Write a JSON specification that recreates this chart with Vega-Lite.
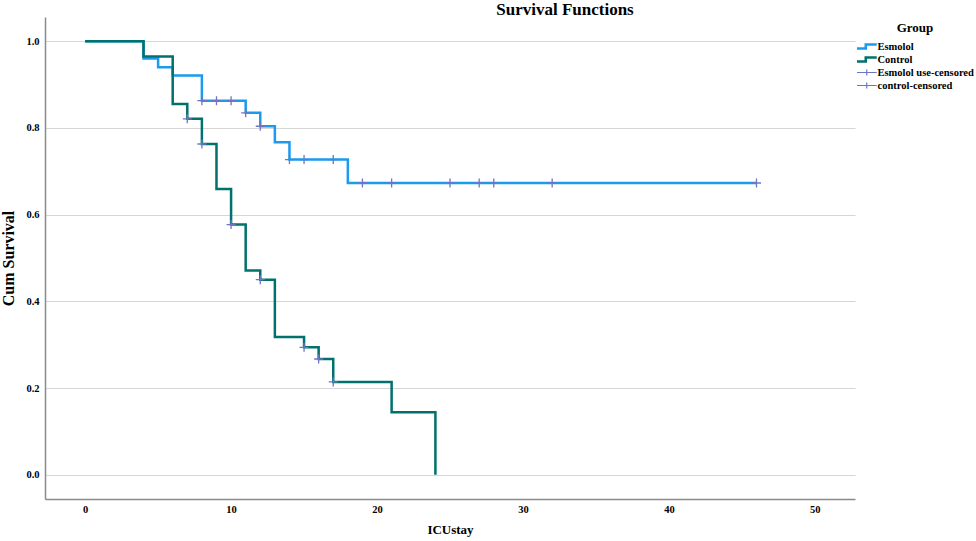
{
  "$schema": "https://vega.github.io/schema/vega-lite/v6.json",
  "width": 810,
  "height": 482,
  "autosize": {"type": "none"},
  "padding": {"left": 45, "top": 17, "right": 121, "bottom": 42},
  "background": "white",
  "title": {
    "text": "Survival Functions",
    "font": "Liberation Serif",
    "fontSize": 17,
    "fontWeight": "bold",
    "color": "#000000",
    "anchor": "middle",
    "dx": 115,
    "dy": 17,
    "offset": 2,
    "baseline": "alphabetic"
  },
  "datasets": {
    "curves": [
      {"ICUstay": 0, "survival": 1.0, "Group": "Esmolol"},
      {"ICUstay": 4, "survival": 0.960, "Group": "Esmolol"},
      {"ICUstay": 5, "survival": 0.940, "Group": "Esmolol"},
      {"ICUstay": 6, "survival": 0.921, "Group": "Esmolol"},
      {"ICUstay": 8, "survival": 0.863, "Group": "Esmolol"},
      {"ICUstay": 11, "survival": 0.835, "Group": "Esmolol"},
      {"ICUstay": 12, "survival": 0.804, "Group": "Esmolol"},
      {"ICUstay": 13, "survival": 0.767, "Group": "Esmolol"},
      {"ICUstay": 14, "survival": 0.727, "Group": "Esmolol"},
      {"ICUstay": 18, "survival": 0.673, "Group": "Esmolol"},
      {"ICUstay": 46, "survival": 0.673, "Group": "Esmolol"},
      {"ICUstay": 0, "survival": 1.0, "Group": "Control"},
      {"ICUstay": 4, "survival": 0.965, "Group": "Control"},
      {"ICUstay": 6, "survival": 0.855, "Group": "Control"},
      {"ICUstay": 7, "survival": 0.821, "Group": "Control"},
      {"ICUstay": 8, "survival": 0.763, "Group": "Control"},
      {"ICUstay": 9, "survival": 0.659, "Group": "Control"},
      {"ICUstay": 10, "survival": 0.577, "Group": "Control"},
      {"ICUstay": 11, "survival": 0.471, "Group": "Control"},
      {"ICUstay": 12, "survival": 0.450, "Group": "Control"},
      {"ICUstay": 13, "survival": 0.318, "Group": "Control"},
      {"ICUstay": 15, "survival": 0.294, "Group": "Control"},
      {"ICUstay": 16, "survival": 0.267, "Group": "Control"},
      {"ICUstay": 17, "survival": 0.214, "Group": "Control"},
      {"ICUstay": 21, "survival": 0.144, "Group": "Control"},
      {"ICUstay": 24, "survival": 0.0, "Group": "Control"}
    ],
    "censored": [
      {"ICUstay": 8, "survival": 0.863, "Group": "Esmolol use-censored"},
      {"ICUstay": 9, "survival": 0.863, "Group": "Esmolol use-censored"},
      {"ICUstay": 10, "survival": 0.863, "Group": "Esmolol use-censored"},
      {"ICUstay": 11, "survival": 0.835, "Group": "Esmolol use-censored"},
      {"ICUstay": 12, "survival": 0.804, "Group": "Esmolol use-censored"},
      {"ICUstay": 14, "survival": 0.727, "Group": "Esmolol use-censored"},
      {"ICUstay": 15, "survival": 0.727, "Group": "Esmolol use-censored"},
      {"ICUstay": 17, "survival": 0.727, "Group": "Esmolol use-censored"},
      {"ICUstay": 19, "survival": 0.673, "Group": "Esmolol use-censored"},
      {"ICUstay": 21, "survival": 0.673, "Group": "Esmolol use-censored"},
      {"ICUstay": 25, "survival": 0.673, "Group": "Esmolol use-censored"},
      {"ICUstay": 27, "survival": 0.673, "Group": "Esmolol use-censored"},
      {"ICUstay": 28, "survival": 0.673, "Group": "Esmolol use-censored"},
      {"ICUstay": 32, "survival": 0.673, "Group": "Esmolol use-censored"},
      {"ICUstay": 46, "survival": 0.673, "Group": "Esmolol use-censored"},
      {"ICUstay": 7, "survival": 0.821, "Group": "control-censored"},
      {"ICUstay": 8, "survival": 0.763, "Group": "control-censored"},
      {"ICUstay": 10, "survival": 0.577, "Group": "control-censored"},
      {"ICUstay": 12, "survival": 0.450, "Group": "control-censored"},
      {"ICUstay": 15, "survival": 0.294, "Group": "control-censored"},
      {"ICUstay": 16, "survival": 0.267, "Group": "control-censored"},
      {"ICUstay": 17, "survival": 0.214, "Group": "control-censored"}
    ]
  },
  "encoding": {
    "x": {
      "field": "ICUstay",
      "type": "quantitative",
      "scale": {"domain": [-2.75, 52.75], "nice": false, "zero": false},
      "axis": {
        "title": "ICUstay",
        "values": [0, 10, 20, 30, 40, 50],
        "grid": false,
        "ticks": false,
        "labelPadding": 5,
        "titlePadding": 9,
        "titleFontSize": 13,
        "labelFontSize": 10.5
      }
    },
    "y": {
      "field": "survival",
      "type": "quantitative",
      "scale": {"domain": [-0.056, 1.056], "nice": false, "zero": false},
      "axis": {
        "title": "Cum Survival",
        "values": [0, 0.2, 0.4, 0.6, 0.8, 1.0],
        "format": ".1f",
        "grid": true,
        "ticks": false,
        "labelPadding": 6,
        "titlePadding": 9,
        "titleFontSize": 16,
        "labelFontSize": 10.5
      }
    },
    "color": {
      "field": "Group",
      "type": "nominal",
      "scale": {
        "domain": ["Esmolol", "Control", "Esmolol use-censored", "control-censored"],
        "range": ["#1a9bef", "#00716c", "#6d76c2", "#6d76c2"]
      },
      "legend": {
        "title": "Group",
        "orient": "none",
        "legendX": 812,
        "legendY": 5,
        "direction": "vertical",
        "padding": 0,
        "titleAnchor": "middle",
        "titleFont": "Liberation Serif",
        "titleFontSize": 13,
        "titleFontWeight": "bold",
        "titleColor": "#000000",
        "titlePadding": 5,
        "labelFont": "Liberation Serif",
        "labelFontSize": 10.5,
        "labelFontWeight": "bold",
        "labelColor": "#000000",
        "labelOffset": 10,
        "symbolSize": 100,
        "clipHeight": 13,
        "rowPadding": 0,
        "encode": {
          "symbols": {
            "update": {
              "shape": {"signal": "(datum.value === 'Esmolol' || datum.value === 'Control') ? 'M-1.1,0.4L0.7,0.4L0.7,-0.4L2.9,-0.4' : 'M-1.1,0L2.9,0M0.9,-0.6L0.9,0.6'"},
              "strokeWidth": {"signal": "(datum.value === 'Esmolol' || datum.value === 'Control') ? 2.5 : 1.2"},
              "fill": {"value": "transparent"},
              "opacity": {"value": 1}
            }
          }
        }
      }
    }
  },
  "layer": [
    {
      "data": {"name": "curves"},
      "transform": [{"filter": "datum.Group === 'Esmolol'"}],
      "mark": {"type": "line", "interpolate": "step-after", "strokeWidth": 2.5}
    },
    {
      "data": {"name": "curves"},
      "transform": [{"filter": "datum.Group === 'Control'"}],
      "mark": {"type": "line", "interpolate": "step-after", "strokeWidth": 2.5}
    },
    {
      "data": {"name": "censored"},
      "mark": {"type": "point", "shape": "M-1,0L1,0M0,-1L0,1", "filled": false, "size": 81, "strokeWidth": 1.3, "opacity": 1}
    }
  ],
  "config": {
    "view": {"stroke": null},
    "font": "Liberation Serif",
    "axis": {
      "domainColor": "#8a8a8a",
      "domainWidth": 1.5,
      "gridColor": "#d6d6d6",
      "gridWidth": 1.2,
      "labelFont": "Liberation Serif",
      "labelFontWeight": "bold",
      "labelColor": "#000000",
      "titleFont": "Liberation Serif",
      "titleFontWeight": "bold",
      "titleColor": "#000000"
    }
  }
}
